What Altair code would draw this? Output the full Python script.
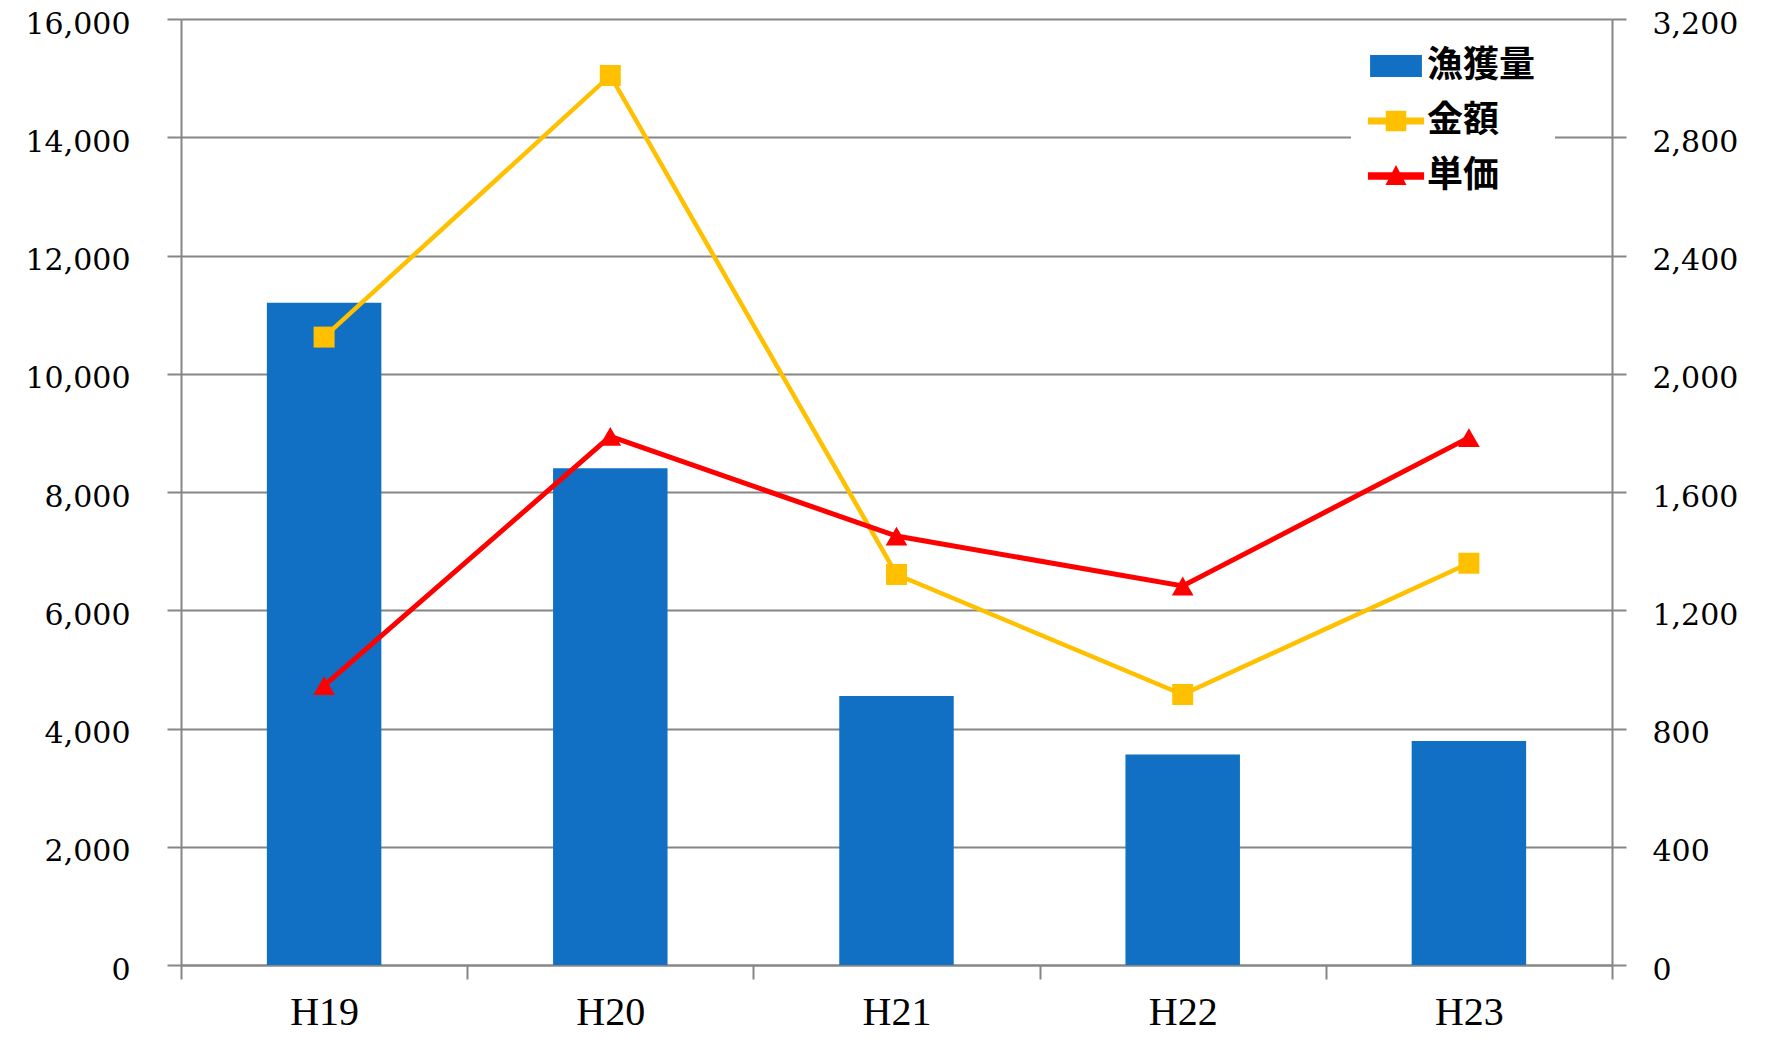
import altair as alt
import pandas as pd

years = ["H19", "H20", "H21", "H22", "H23"]
catch = [11200, 8400, 4550, 3560, 3790]
amount = [2124, 3009, 1321, 915, 1359]
unit_price = [945, 1788, 1451, 1282, 1784]

series = ["漁獲量", "金額", "単価"]
colors = ["#1170C4", "#FFC000", "#FF0000"]
legend_shapes = [
    "M-0.96,-0.41H0.96V0.41H-0.96Z",
    "M-1.04,-0.13H1.04V0.13H-1.04Z M-0.38,-0.38H0.38V0.38H-0.38Z",
    "M-1.04,-0.14H1.04V0.14H-1.04Z M0,-0.41L0.39,0.33H-0.39Z",
]

left_ticks = list(range(0, 16001, 2000))
right_ticks = list(range(0, 3201, 400))

df = pd.DataFrame({"year": years, "catch": catch, "amount": amount, "price": unit_price})
legend_df = pd.DataFrame({"series": series})

GRAY = "#868686"
NUM_FONT = "DejaVu Serif"
X_FONT = "Liberation Serif"

x_enc = alt.X(
    "year:N",
    sort=years,
    scale=alt.Scale(paddingInner=0, paddingOuter=0),
    axis=alt.Axis(
        title=None, labelAngle=0, tickBand="extent", tickSize=14, tickWidth=2,
        tickColor=GRAY, domainColor=GRAY, domainWidth=2, grid=False,
        labelFont=X_FONT, labelFontSize=40, labelColor="black", labelPadding=13,
    ),
)

bars = alt.Chart(df).mark_bar(color=colors[0], width={"band": 0.4}).encode(
    x=x_enc,
    y=alt.Y(
        "catch:Q",
        scale=alt.Scale(domain=[0, 16000], nice=False),
        axis=alt.Axis(
            values=left_ticks, format=",d", title=None, orient="left",
            tickSize=14, tickWidth=2, tickColor=GRAY, domainColor=GRAY, domainWidth=2,
            grid=True, gridColor=GRAY, gridWidth=2,
            labelFont=NUM_FONT, labelFontSize=30, labelColor="black", labelPadding=37,
            labelOffset=5,
        ),
    ),
)

y_right = alt.Y(
    "amount:Q",
    scale=alt.Scale(domain=[0, 3200], nice=False),
    axis=alt.Axis(
        values=right_ticks, format=",d", title=None, orient="right",
        tickSize=14, tickWidth=2, tickColor=GRAY, domainColor=GRAY, domainWidth=2,
        grid=False,
        labelFont=NUM_FONT, labelFontSize=30, labelColor="black", labelPadding=26,
        labelOffset=5,
    ),
)

base = alt.Chart(df)
amount_line = base.mark_line(color=colors[1], strokeWidth=4.5).encode(x=x_enc, y=y_right)
amount_pts = base.mark_point(shape="square", filled=True, size=440, color=colors[1], opacity=1).encode(
    x=x_enc, y=y_right
)
price_line = base.mark_line(color=colors[2], strokeWidth=5).encode(x=x_enc, y=alt.Y("price:Q"))
price_pts = base.mark_point(shape="triangle-up", filled=True, size=470, color=colors[2], opacity=1).encode(
    x=x_enc, y=alt.Y("price:Q")
)

leg = alt.Legend(
    title=None, orient="none", legendX=1170, legendY=2,
    labelFont="Noto Sans CJK JP", labelFontWeight="bold", labelFontSize=36, labelColor="black",
    symbolSize=2916, symbolStrokeWidth=0, symbolOpacity=1, rowPadding=10, labelOffset=4,
    padding=18, fillColor="white", strokeColor="white",
)
legend_layer = alt.Chart(legend_df).mark_point(filled=True, opacity=0).encode(
    color=alt.Color("series:N", sort=series, scale=alt.Scale(domain=series, range=colors), legend=leg),
    shape=alt.Shape("series:N", sort=series, scale=alt.Scale(domain=series, range=legend_shapes), legend=leg),
)

lines = alt.layer(amount_line, price_line, amount_pts, price_pts, legend_layer)

chart = alt.layer(bars, lines).resolve_scale(y="independent").properties(
    width=1431,
    height=946,
    autosize=alt.AutoSizeParams(type="none"),
    padding={"left": 173, "top": 11, "right": 150, "bottom": 70},
).configure_view(strokeWidth=0).configure(background="white")

chart.save("out.html", embed_options={"renderer": "svg", "actions": False})
